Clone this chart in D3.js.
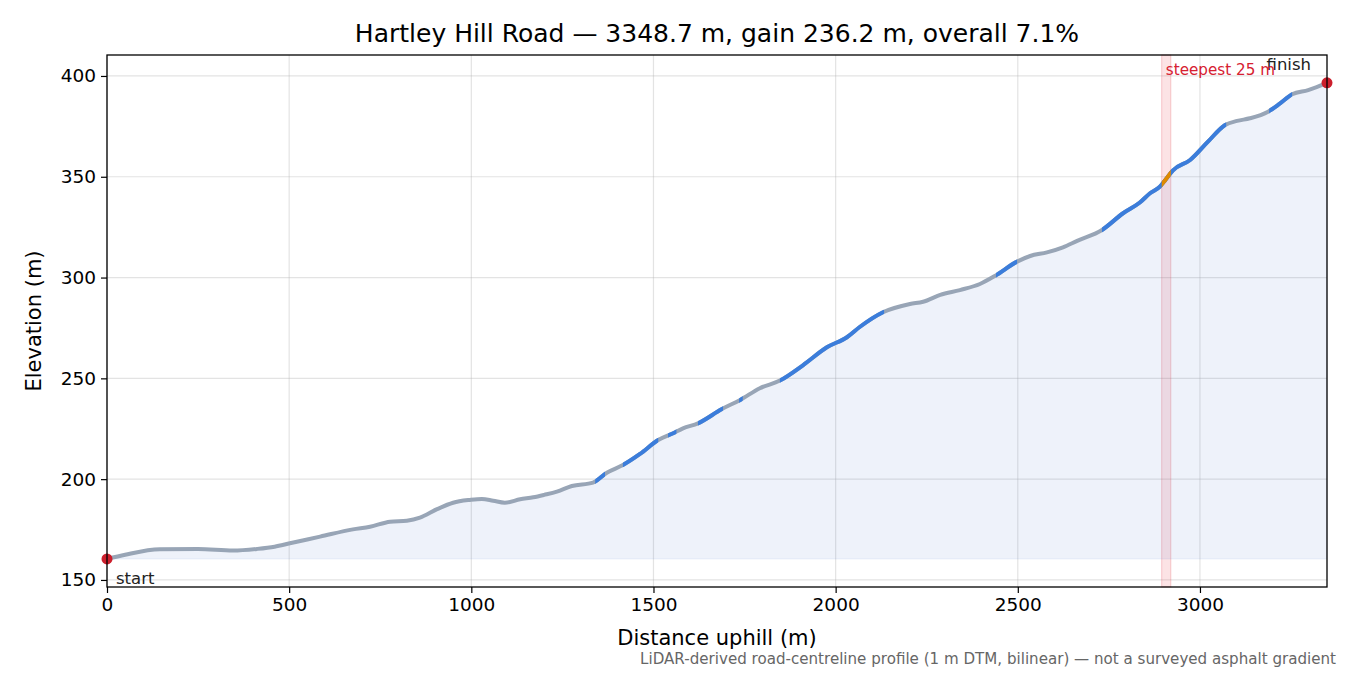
<!DOCTYPE html>
<html>
<head>
<meta charset="utf-8">
<script src="https://cdn.jsdelivr.net/npm/d3@7"></script>
<style>
  body { margin: 0; background: #fff; }
  svg { display: block; font-family: "DejaVu Sans", sans-serif; }
</style>
</head>
<body>
<svg id="chart" width="1350" height="675"></svg>
<script>
// profile samples: distance uphill (m) and elevation (m)
const distances = [0, 50, 145, 250, 346, 412, 460, 502, 585, 675, 722, 777, 823, 859, 906, 950, 996, 1029,
  1060, 1092, 1134, 1170, 1200, 1235, 1276, 1334, 1372, 1416, 1463, 1513, 1554, 1581, 1622, 1688, 1738,
  1792, 1847, 1911, 1976, 2031, 2067, 2130, 2204, 2240, 2287, 2341, 2396, 2437, 2498, 2534, 2580, 2624,
  2663, 2731, 2789, 2835, 2863, 2890, 2904, 2926, 2973, 3022, 3069, 3102, 3137, 3187, 3220, 3253, 3297, 3348.7];
const elevations = [160.4, 162.5, 165.2, 165.3, 164.6, 165.4, 166.5, 168.2, 171.5, 175.1, 176.4, 178.9, 179.4,
  180.9, 185.1, 188.3, 189.7, 190.2, 189.3, 188.3, 190.0, 191.0, 192.2, 193.8, 196.6, 198.3, 203.2, 207.0,
  212.5, 219.4, 222.8, 225.2, 227.7, 234.8, 239.3, 245.1, 248.9, 256.6, 265.4, 270.4, 275.6, 282.8, 286.9,
  288.0, 291.4, 293.8, 296.8, 300.8, 307.9, 310.7, 312.5, 315.0, 318.2, 323.6, 331.9, 337.2, 341.8, 345.1,
  348.2, 353.2, 358.3, 367.4, 375.7, 377.7, 379.0, 382.3, 386.4, 390.9, 393.0, 396.6];

// stretches drawn in blue (steeper), and the steepest 25 m window
const steepSections = [[1340, 1367], [1416, 1513], [1540, 1563], [1622, 1691], [1735, 1745],
  [1847, 2133], [2440, 2498], [2731, 3072], [3190, 3253]];
const steepest = [2895, 2920];

const xTicks = [0, 500, 1000, 1500, 2000, 2500, 3000];
const yTicks = [150, 200, 250, 300, 350, 400];

const titleText = "Hartley Hill Road — 3348.7 m, gain 236.2 m, overall 7.1%";
const noteText = "LiDAR-derived road-centreline profile (1 m DTM, bilinear) — not a surveyed asphalt gradient";

const margin = { top: 55, right: 23, bottom: 88, left: 107 };
const W = 1350, H = 675;
const iw = W - margin.left - margin.right;
const ih = H - margin.top - margin.bottom;

const dados = distances.map((d, i) => ({ d: d, e: elevations[i] }));

const svg = d3.select("#chart");
const g = svg.append("g").attr("transform", `translate(${margin.left},${margin.top})`);

const x = d3.scaleLinear().domain([0, 3348.7]).range([0, iw]);
const y = d3.scaleLinear().domain([146.5, 410.4]).range([ih, 0]);

// grid
g.append("g").selectAll("line").data(xTicks).enter().append("line")
  .attr("x1", d => x(d)).attr("x2", d => x(d)).attr("y1", 0).attr("y2", ih)
  .attr("stroke", "#b0b0b0").attr("stroke-opacity", 0.35).attr("stroke-width", 1.2);
g.append("g").selectAll("line").data(yTicks).enter().append("line")
  .attr("y1", d => y(d)).attr("y2", d => y(d)).attr("x1", 0).attr("x2", iw)
  .attr("stroke", "#b0b0b0").attr("stroke-opacity", 0.35).attr("stroke-width", 1.2);

// steepest window band
g.append("rect")
  .attr("x", x(steepest[0])).attr("width", x(steepest[1]) - x(steepest[0]))
  .attr("y", 0).attr("height", ih)
  .attr("fill", "#e8404f").attr("fill-opacity", 0.15)
  .attr("stroke", "#e8404f").attr("stroke-opacity", 0.25).attr("stroke-width", 1);

// filled area down to the start elevation
const base = d3.min(elevations);
const area = d3.area().x(d => x(d.d)).y0(y(base)).y1(d => y(d.e)).curve(d3.curveMonotoneX);
g.append("path").datum(dados).attr("d", area)
  .attr("fill", "#3f72c4").attr("fill-opacity", 0.09)
  .attr("stroke", "#3f72c4").attr("stroke-opacity", 0.06).attr("stroke-width", 1.5);

const line = d3.line().x(d => x(d.d)).y(d => y(d.e)).curve(d3.curveMonotoneX);

// clip paths for coloured stretches
const defs = svg.append("defs");
const clipSteep = defs.append("clipPath").attr("id", "clipSteep");
clipSteep.selectAll("rect").data(steepSections).enter().append("rect")
  .attr("x", d => x(d[0])).attr("width", d => x(d[1]) - x(d[0]))
  .attr("y", -20).attr("height", ih + 40);
defs.append("clipPath").attr("id", "clipTop").append("rect")
  .attr("x", x(steepest[0])).attr("width", x(steepest[1]) - x(steepest[0]))
  .attr("y", -20).attr("height", ih + 40);

g.append("path").datum(dados).attr("d", line)
  .attr("fill", "none").attr("stroke", "#98a5b6").attr("stroke-width", 4).attr("stroke-linejoin", "round");
g.append("path").datum(dados).attr("d", line).attr("clip-path", "url(#clipSteep)")
  .attr("fill", "none").attr("stroke", "#3b7ddb").attr("stroke-width", 4).attr("stroke-linejoin", "round");
g.append("path").datum(dados).attr("d", line).attr("clip-path", "url(#clipTop)")
  .attr("fill", "none").attr("stroke", "#e08a00").attr("stroke-width", 4).attr("stroke-linejoin", "round");

// start / finish markers
const ends = [dados[0], dados[dados.length - 1]];
g.append("g").selectAll("circle").data(ends).enter().append("circle")
  .attr("cx", d => x(d.d)).attr("cy", d => y(d.e)).attr("r", 5.5).attr("fill", "#cc1f2c");

// axes
const xAxis = g.append("g").attr("transform", `translate(0,${ih})`)
  .call(d3.axisBottom(x).tickValues(xTicks).tickSize(6).tickPadding(5).tickFormat(d3.format("d")));
const yAxis = g.append("g")
  .call(d3.axisLeft(y).tickValues(yTicks).tickSize(6).tickPadding(5).tickFormat(d3.format("d")));
[xAxis, yAxis].forEach(a => {
  a.select(".domain").remove();
  a.selectAll("text").attr("font-size", 18.5).attr("fill", "#000").attr("font-family", "DejaVu Sans");
  a.selectAll("line").attr("stroke", "#000").attr("stroke-width", 1.2);
});

// frame
g.append("rect").attr("width", iw).attr("height", ih)
  .attr("fill", "none").attr("stroke", "#000").attr("stroke-width", 1.3);

// annotations
g.append("text").attr("x", x(0) + 9).attr("y", ih - 3)
  .attr("font-size", 16.5).attr("fill", "#222").text("start");
g.append("text").attr("x", x(3348.7) - 16).attr("y", 15).attr("text-anchor", "end")
  .attr("font-size", 16.5).attr("fill", "#222").text("finish");
g.append("text").attr("x", x(steepest[1]) - 5).attr("y", 20)
  .attr("font-size", 15.2).attr("fill", "#d62031").text("steepest 25 m");

// titles
svg.append("text").attr("x", margin.left + iw / 2).attr("y", 42).attr("text-anchor", "middle")
  .attr("font-size", 25).attr("fill", "#000").text(titleText);
svg.append("text").attr("x", margin.left + iw / 2).attr("y", 645).attr("text-anchor", "middle")
  .attr("font-size", 21).attr("fill", "#000").text("Distance uphill (m)");
svg.append("text").attr("transform", `translate(41,${margin.top + ih / 2}) rotate(-90)`)
  .attr("text-anchor", "middle").attr("font-size", 21).attr("fill", "#000").text("Elevation (m)");
svg.append("text").attr("x", 1336).attr("y", 664).attr("text-anchor", "end")
  .attr("font-size", 15.1).attr("fill", "#666").text(noteText);
</script>
</body>
</html>
